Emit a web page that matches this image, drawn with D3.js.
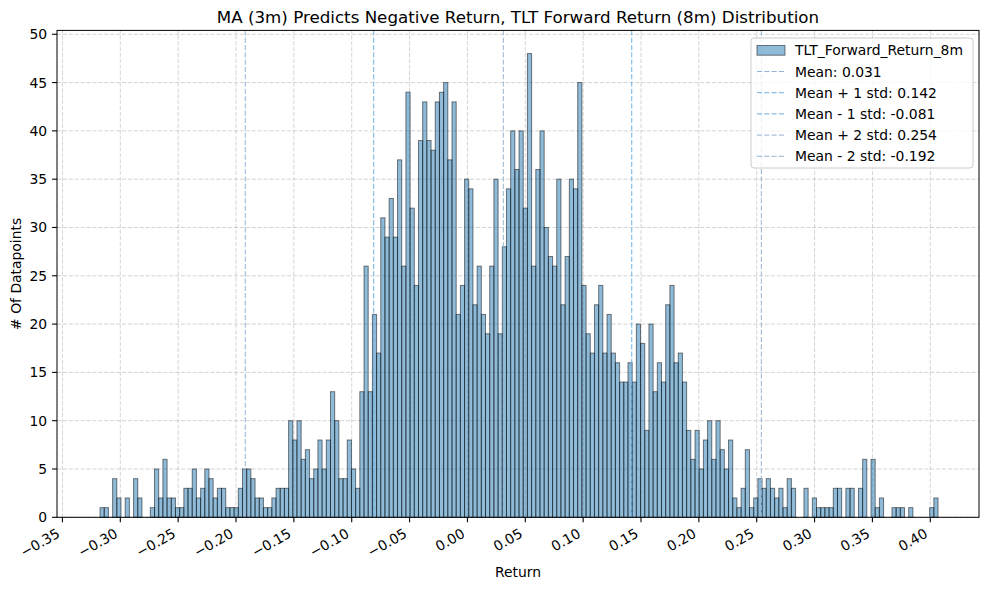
<!DOCTYPE html>
<html>
<head>
<meta charset="utf-8">
<script src="https://cdn.jsdelivr.net/npm/d3@7"></script>
<style>
  body { margin: 0; background: #fff; }
  svg { display: block; font-family: "DejaVu Sans", sans-serif; }
</style>
</head>
<body>
<div id="chart"></div>
<script>
// histogram of TLT forward returns (200 equal bins between histMin and histMax)
const histMin = -0.3175;
const histMax = 0.4067;
const counts = [
    1, 1, 0, 4, 2, 0, 2, 0, 4, 2,
    0, 0, 1, 5, 2, 6, 2, 2, 1, 1,
    3, 3, 5, 2, 3, 5, 4, 2, 3, 3,
    1, 1, 1, 3, 5, 5, 4, 2, 2, 1,
    1, 2, 3, 3, 3, 10, 8, 10, 6, 7,
    4, 5, 8, 5, 8, 13, 10, 4, 4, 8,
    5, 3, 13, 26, 13, 21, 17, 31, 29, 33,
    29, 37, 26, 44, 32, 24, 39, 43, 39, 38,
    43, 44, 45, 37, 43, 21, 24, 35, 34, 22,
    26, 21, 19, 26, 35, 19, 28, 34, 40, 36,
    40, 32, 48, 26, 36, 40, 30, 27, 26, 35,
    22, 27, 35, 34, 45, 24, 19, 17, 22, 24,
    17, 21, 17, 16, 14, 14, 16, 14, 20, 18,
    9, 20, 13, 16, 14, 22, 24, 16, 17, 14,
    9, 6, 9, 5, 8, 10, 6, 10, 7, 5,
    8, 2, 1, 3, 7, 1, 2, 4, 3, 4,
    3, 2, 3, 1, 4, 3, 0, 0, 3, 0,
    2, 1, 1, 1, 1, 3, 3, 0, 3, 3,
    0, 3, 6, 0, 6, 1, 2, 0, 0, 1,
    1, 1, 0, 1, 0, 0, 0, 0, 1, 2
];

const statLabels = ["Mean: 0.031", "Mean + 1 std: 0.142", "Mean - 1 std: -0.081", "Mean + 2 std: 0.254", "Mean - 2 std: -0.192"];
const statValues = [0.031, 0.142, -0.081, 0.254, -0.192];

const xTicks = [-0.35, -0.30, -0.25, -0.20, -0.15, -0.10, -0.05, 0.00, 0.05, 0.10, 0.15, 0.20, 0.25, 0.30, 0.35, 0.40];
const yTicks = [0, 5, 10, 15, 20, 25, 30, 35, 40, 45, 50];

const seriesName = "TLT_Forward_Return_8m";
const title = "MA (3m) Predicts Negative Return, TLT Forward Return (8m) Distribution";

const width = 989, height = 590;
const margin = { top: 30.4, right: 10, bottom: 72.7, left: 57 };

const x = d3.scaleLinear()
    .domain([-0.3547, 0.4421])
    .range([margin.left, width - margin.right]);

const y = d3.scaleLinear()
    .domain([0, 50.4])
    .range([height - margin.bottom, margin.top]);

const fmt = v => d3.format(".2f")(v).replace("-", "\u2212");

const svg = d3.select("#chart").append("svg")
    .attr("width", width)
    .attr("height", height);

// grid
svg.append("g")
    .selectAll("line")
    .data(xTicks)
    .enter().append("line")
      .attr("x1", d => x(d)).attr("x2", d => x(d))
      .attr("y1", y.range()[0]).attr("y2", y.range()[1])
      .attr("stroke", "#b0b0b0").attr("stroke-opacity", 0.55)
      .attr("stroke-width", 1).attr("stroke-dasharray", "4.1,1.8");

svg.append("g")
    .selectAll("line")
    .data(yTicks)
    .enter().append("line")
      .attr("x1", x.range()[0]).attr("x2", x.range()[1])
      .attr("y1", d => y(d)).attr("y2", d => y(d))
      .attr("stroke", "#b0b0b0").attr("stroke-opacity", 0.55)
      .attr("stroke-width", 1).attr("stroke-dasharray", "4.1,1.8");

// bars
const binW = (histMax - histMin) / counts.length;
const bins = counts.map((c, i) => ({ x0: histMin + i * binW, x1: histMin + (i + 1) * binW, count: c }));

svg.append("g")
    .selectAll("rect")
    .data(bins.filter(d => d.count > 0))
    .enter().append("rect")
      .attr("x", d => x(d.x0))
      .attr("width", d => x(d.x1) - x(d.x0))
      .attr("y", d => y(d.count))
      .attr("height", d => y(0) - y(d.count))
      .attr("fill", "rgba(31,119,180,0.5)")
      .attr("stroke", "rgba(0,0,0,0.5)")
      .attr("stroke-width", 1);

// mean / std lines
const statColor = (d, i) => (i === 1 || i === 2) ? "#6fb1e0" : "#94b4d2";

svg.append("g")
    .selectAll("line")
    .data(statValues)
    .enter().append("line")
      .attr("x1", d => x(d)).attr("x2", d => x(d))
      .attr("y1", y.range()[0]).attr("y2", y.range()[1])
      .attr("stroke", statColor)
      .attr("stroke-width", 1)
      .attr("stroke-dasharray", "5.1,2.2");

// axes frame
svg.append("rect")
    .attr("x", margin.left).attr("y", margin.top)
    .attr("width", width - margin.left - margin.right)
    .attr("height", height - margin.top - margin.bottom)
    .attr("fill", "none").attr("stroke", "#000").attr("stroke-width", 1);

// x ticks
const xAxis = svg.append("g");
xAxis.selectAll("line")
    .data(xTicks)
    .enter().append("line")
      .attr("x1", d => x(d)).attr("x2", d => x(d))
      .attr("y1", y(0)).attr("y2", y(0) + 4.9)
      .attr("stroke", "#000").attr("stroke-width", 1.1);

xAxis.selectAll("text")
    .data(xTicks)
    .enter().append("text")
      .attr("transform", d => `translate(${x(d) - 1.6},${y(0) + 19}) rotate(-30)`)
      .attr("text-anchor", "end")
      .style("font-size", "13.9px")
      .text(fmt);

// y ticks
const yAxis = svg.append("g");
yAxis.selectAll("line")
    .data(yTicks)
    .enter().append("line")
      .attr("x1", margin.left - 4.9).attr("x2", margin.left)
      .attr("y1", d => y(d)).attr("y2", d => y(d))
      .attr("stroke", "#000").attr("stroke-width", 1.1);

yAxis.selectAll("text")
    .data(yTicks)
    .enter().append("text")
      .attr("x", margin.left - 9.8)
      .attr("y", d => y(d))
      .attr("dy", "0.36em")
      .attr("text-anchor", "end")
      .style("font-size", "13.9px")
      .text(d => d);

// labels
svg.append("text")
    .attr("x", (x.range()[0] + x.range()[1]) / 2)
    .attr("y", 577)
    .attr("text-anchor", "middle")
    .style("font-size", "13.9px")
    .text("Return");

svg.append("text")
    .attr("transform", `translate(21,${(y.range()[0] + y.range()[1]) / 2}) rotate(-90)`)
    .attr("text-anchor", "middle")
    .style("font-size", "13.9px")
    .text("# Of Datapoints");

svg.append("text")
    .attr("x", (x.range()[0] + x.range()[1]) / 2)
    .attr("y", 23)
    .attr("text-anchor", "middle")
    .style("font-size", "16.7px")
    .text(title);

// legend
const legendG = svg.append("g")
    .attr("transform", "translate(751,38)");

legendG.append("rect")
    .attr("width", 222).attr("height", 130)
    .attr("rx", 3)
    .attr("fill", "rgba(255,255,255,0.8)")
    .attr("stroke", "#cccccc").attr("stroke-width", 1);

const rowH = 21.2;

legendG.append("rect")
    .attr("x", 6).attr("y", 7.5)
    .attr("width", 28).attr("height", 9.7)
    .attr("fill", "rgba(31,119,180,0.5)")
    .attr("stroke", "rgba(0,0,0,0.5)");

legendG.append("text")
    .attr("x", 44).attr("y", 12.3)
    .attr("dy", "0.36em")
    .style("font-size", "13.9px")
    .text(seriesName);

const legendRows = legendG.selectAll(".legend-row")
    .data(statLabels)
    .enter().append("g")
      .attr("class", "legend-row")
      .attr("transform", (d, i) => `translate(0,${12.3 + (i + 1) * rowH})`);

legendRows.append("line")
    .attr("x1", 6).attr("x2", 34)
    .attr("stroke", statColor)
    .attr("stroke-width", 1)
    .attr("stroke-dasharray", "5.1,2.2");

legendRows.append("text")
    .attr("x", 44)
    .attr("dy", "0.36em")
    .style("font-size", "13.9px")
    .text(d => d);
</script>
</body>
</html>
